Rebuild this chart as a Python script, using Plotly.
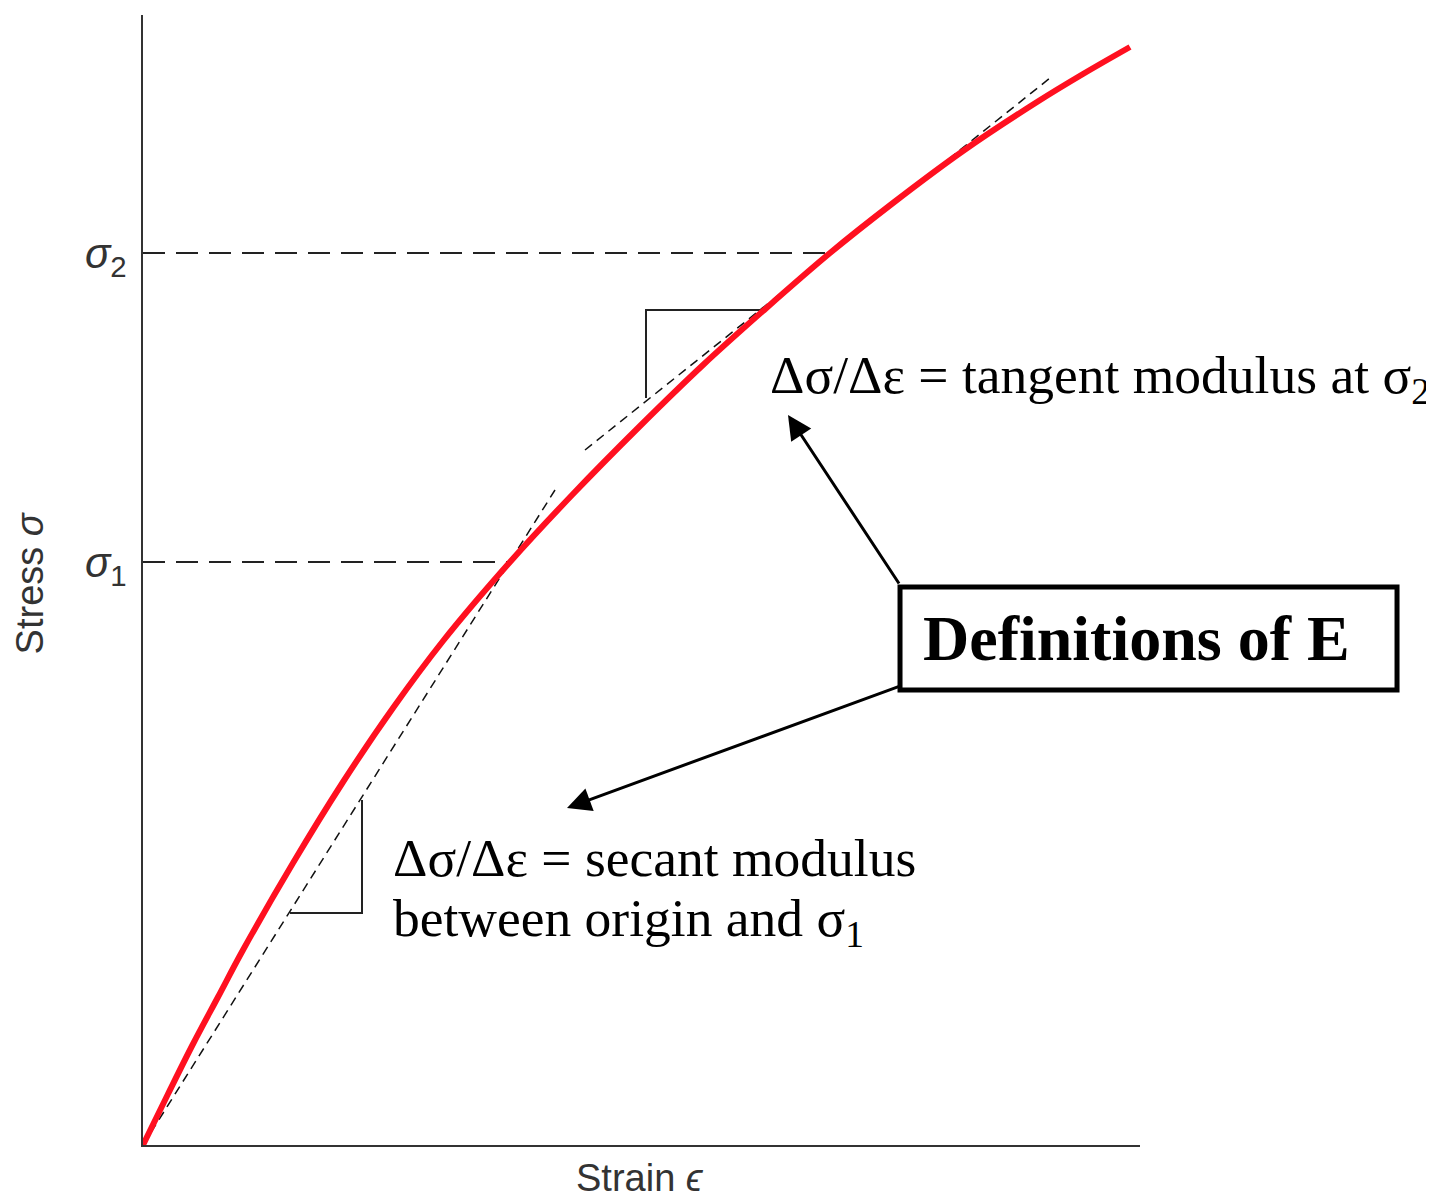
import plotly.graph_objects as go

# Stress-strain curve (arbitrary units)
strain_curve = [0, 25, 50, 75, 100, 150, 200, 250, 300, 367, 430, 497, 560,
                620, 687, 750, 820, 894, 940, 987]
stress_curve = [0, 51, 101, 148, 195, 282, 363, 437, 504, 583, 651, 719, 780,
                834, 892, 942, 994, 1043, 1071, 1098]

# Reference levels on the curve
sigma_levels = [583, 892]
sigma_strains = [367, 687]
sigma_labels = ["<i>σ</i><sub>1</sub>", "<i>σ</i><sub>2</sub>"]

# Secant line (origin -> sigma1) and tangent line at sigma2
secant_strain = [0, 412]
secant_stress = [0, 655]
tangent_strain = [442, 907]
tangent_stress = [695, 1067]

# Slope triangles
secant_tri_x = [147, 219, 219]
secant_tri_y = [232, 232, 345]
tangent_tri_x = [503, 503, 619]
tangent_tri_y = [747, 835, 835]

SERIF = "Liberation Serif, Times New Roman, serif"
SANS = "Liberation Sans, Arial, sans-serif"

fig = go.Figure()

# horizontal guides to sigma1 / sigma2
for s_x, s_y in zip(sigma_strains, sigma_levels):
    fig.add_trace(go.Scatter(
        x=[0, s_x], y=[s_y, s_y], mode="lines",
        line=dict(color="#222222", width=2, dash="22px,11px"),
        hoverinfo="skip",
    ))

fig.add_trace(go.Scatter(
    x=secant_strain, y=secant_stress, mode="lines",
    line=dict(color="#111111", width=1.5, dash="9px,6px"),
    hoverinfo="skip",
))
fig.add_trace(go.Scatter(
    x=tangent_strain, y=tangent_stress, mode="lines",
    line=dict(color="#111111", width=1.5, dash="9px,6px"),
    hoverinfo="skip",
))

for tx, ty in [(secant_tri_x, secant_tri_y), (tangent_tri_x, tangent_tri_y)]:
    fig.add_trace(go.Scatter(
        x=tx, y=ty, mode="lines",
        line=dict(color="#222222", width=2),
        hoverinfo="skip",
    ))

fig.add_trace(go.Scatter(
    x=strain_curve, y=stress_curve, mode="lines",
    line=dict(color="#ff1020", width=6, shape="spline", smoothing=1.0),
    hoverinfo="skip",
))

# "Definitions of E" box
fig.add_shape(
    type="rect", xref="paper", yref="paper",
    x0=0.7593, x1=1.2578, y0=0.4027, y1=0.4938,
    line=dict(color="black", width=5), fillcolor="white",
)
fig.add_annotation(
    text="<b>Definitions of E</b>", xref="paper", yref="paper",
    x=0.7803, y=0.4482, xanchor="left", yanchor="middle",
    showarrow=False, font=dict(family=SERIF, size=64, color="black"),
)

# arrows from the box to the two labels
fig.add_annotation(
    x=645, y=730, ax=757, ay=560, xref="x", yref="y", axref="x", ayref="y",
    text="", showarrow=True, arrowhead=2, arrowsize=1.6, arrowwidth=3,
    arrowcolor="black", standoff=0,
)
fig.add_annotation(
    x=424, y=337, ax=757, ay=459, xref="x", yref="y", axref="x", ayref="y",
    text="", showarrow=True, arrowhead=2, arrowsize=1.6, arrowwidth=3,
    arrowcolor="black", standoff=0,
)

# modulus labels
fig.add_annotation(
    text="Δσ/Δε = tangent modulus at σ<sub>2</sub>", xref="x", yref="y",
    x=625, y=767, xanchor="left", yanchor="middle", showarrow=False,
    font=dict(family=SERIF, size=53.5, color="black"),
)
fig.add_annotation(
    text="Δσ/Δε = secant modulus", xref="x", yref="y",
    x=248, y=287, xanchor="left", yanchor="middle", showarrow=False,
    font=dict(family=SERIF, size=53.5, color="black"),
)
fig.add_annotation(
    text="between origin and σ<sub>1</sub>", xref="x", yref="y",
    x=248, y=224, xanchor="left", yanchor="middle", showarrow=False,
    font=dict(family=SERIF, size=53.5, color="black"),
)

# axis titles
fig.add_annotation(
    text="Stress <i>σ</i>", xref="paper", yref="paper",
    x=-0.1133, y=0.497, textangle=-90, showarrow=False,
    xanchor="center", yanchor="middle",
    font=dict(family=SANS, size=38, color="#333333"),
)
fig.add_annotation(
    text="Strain <i>ϵ</i>", xref="paper", yref="paper",
    x=0.4985, y=-0.029, showarrow=False,
    xanchor="center", yanchor="middle",
    font=dict(family=SANS, size=38, color="#333333"),
)

# page body adds ~8px offset, so margins are shifted to keep the plot area in place
fig.update_layout(
    width=1434, height=1194,
    margin=dict(l=135, r=302, t=7, b=57),
    paper_bgcolor="white", plot_bgcolor="white",
    showlegend=False,
    xaxis=dict(
        range=[0, 997], showgrid=False, zeroline=False, showticklabels=False,
        ticks="", showline=True, linecolor="#333333", linewidth=2,
    ),
    yaxis=dict(
        range=[0, 1130], showgrid=False, zeroline=False,
        tickvals=sigma_levels, ticktext=sigma_labels, ticks="",
        ticklabelstandoff=6,
        tickfont=dict(family=SANS, size=42, color="#333333"),
        showline=True, linecolor="#333333", linewidth=2,
    ),
)

fig.write_html("out.html")
